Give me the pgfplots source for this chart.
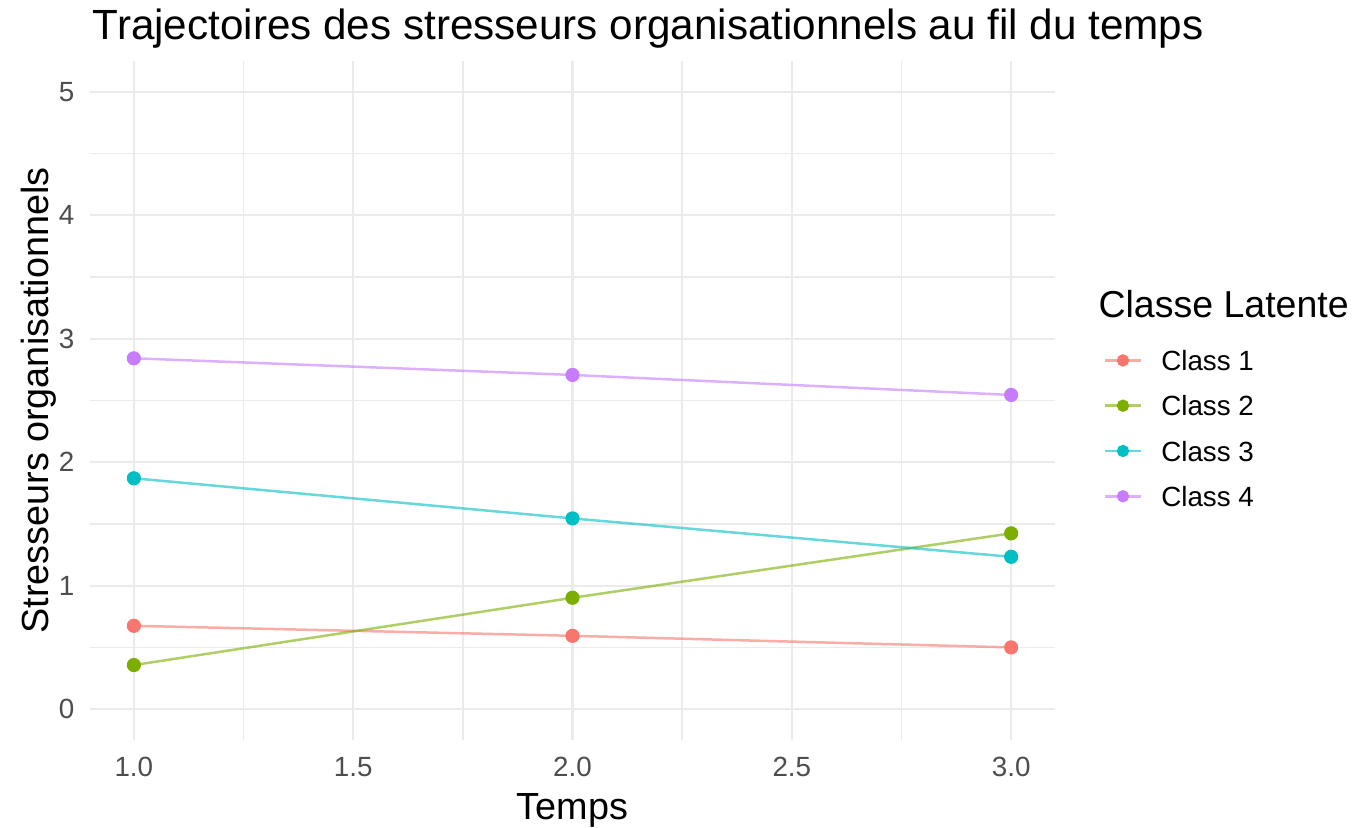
\documentclass[border=0pt]{standalone}
\usepackage{fontspec}
\setmainfont{Liberation Sans}
\usepackage{pgfplots}
\pgfplotsset{compat=1.18}
\definecolor{c1}{HTML}{F8766D}
\definecolor{c2}{HTML}{7CAE00}
\definecolor{c3}{HTML}{00BFC4}
\definecolor{c4}{HTML}{C77CFF}
\definecolor{gridc}{HTML}{EBEBEB}
\definecolor{tickc}{HTML}{4D4D4D}
\pgfplotsset{
  cls/.style={#1, line width=0.9pt, draw opacity=0.6, mark=*, mark size=2.1pt,
    mark options={draw opacity=1, fill opacity=1}},
}
\begin{document}
\begin{tikzpicture}
\fill[white] (-32.4pt,-31.32pt) rectangle (454.68pt,266.4pt);
\useasboundingbox (-32.4pt,-31.32pt) rectangle (454.68pt,266.4pt);
\begin{axis}[
  at={(0pt,0pt)}, anchor=south west,
  scale only axis, width=347.4pt, height=244.44pt,
  xmin=0.9, xmax=3.1, ymin=-0.25, ymax=5.25,
  axis line style={draw=none},
  major tick length=0pt, minor tick length=0pt,
  xtick={1,1.5,2,2.5,3}, minor xtick={1.25,1.75,2.25,2.75},
  ytick={0,1,2,3,4,5}, minor ytick={0.5,1.5,2.5,3.5,4.5},
  grid=both,
  major grid style={gridc, line width=0.75pt},
  minor grid style={gridc, line width=0.6pt},
  /pgf/number format/assume math mode=true,
  xticklabel={\pgfmathprintnumber[fixed,fixed zerofill,precision=1]{\tick}},
  tick label style={font=\fontsize{10}{12}\selectfont, text=tickc, inner sep=0pt},
  xticklabel style={anchor=north, yshift=-6.1pt},
  yticklabel style={anchor=east, xshift=-5.4pt},
  xlabel={Temps}, ylabel={Stresseurs organisationnels},
  label style={font=\fontsize{13.6}{16}\selectfont, inner sep=0pt},
  xlabel style={at={(axis description cs:0.5,-0.1168)}, anchor=base},
  ylabel style={at={(axis description cs:-0.04352,0.5)}, anchor=base},
  legend style={at={(axis description cs:1.0497,0.5748)}, anchor=north west,
    draw=none, fill=none, inner sep=0pt, row sep=9pt, column sep=6.8pt,
    font=\fontsize{10}{12}\selectfont,
    nodes={inner sep=0pt, text height=7.3pt, text depth=0pt}},
  legend cell align=left,
  legend image code/.code={\draw[mark repeat=2,mark phase=2,#1,line width=1pt,mark size=1.7pt]
    plot coordinates {(0pt,0pt) (6.5pt,0pt) (13pt,0pt)};},
]
\addplot[cls=c1] coordinates {(1,0.675) (2,0.594) (3,0.500)};
\addlegendentry{Class 1}
\addplot[cls=c2] coordinates {(1,0.357) (2,0.902) (3,1.424)};
\addlegendentry{Class 2}
\addplot[cls=c3] coordinates {(1,1.870) (2,1.545) (3,1.234)};
\addlegendentry{Class 3}
\addplot[cls=c4] coordinates {(1,2.842) (2,2.707) (3,2.545)};
\addlegendentry{Class 4}
\end{axis}
\node[anchor=base west, inner sep=0pt, font=\fontsize{15.2}{18}\selectfont] at (0.8pt,252.18pt) {Trajectoires des stresseurs organisationnels au fil du temps};
\node[anchor=base west, inner sep=0pt, font=\fontsize{13.5}{16}\selectfont] at (362.88pt,152.1pt) {Classe Latente};
\end{tikzpicture}
\end{document}
